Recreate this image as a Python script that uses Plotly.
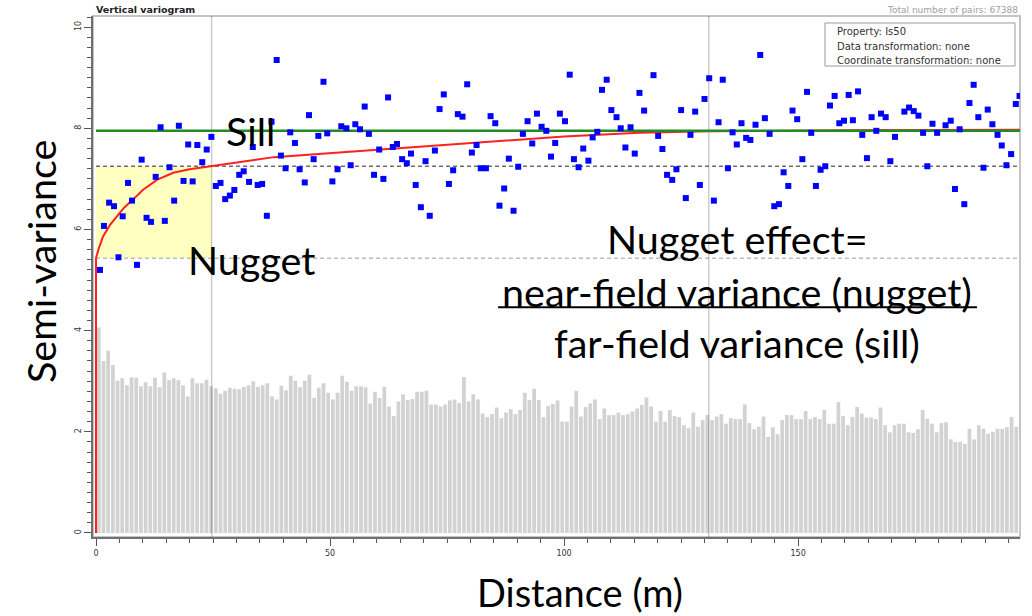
import plotly.graph_objects as go

# ---------------- data ----------------
POINT_X = [0.85, 1.7, 2.8, 3.85, 4.8, 5.7, 6.84, 7.7, 8.76, 9.76, 10.8, 11.75, 12.75, 13.8, 14.7, 15.7, 16.7,
           17.7, 18.7, 19.7, 20.65, 21.65, 22.7, 23.65, 24.65, 25.6, 26.6, 27.6, 28.6, 29.55, 30.6, 31.55,
           32.7, 33.5, 34.55, 35.5, 36.5, 37.5, 38.6, 39.5, 40.5, 41.5, 42.5, 43.5, 44.6, 45.5, 46.5, 47.5,
           48.6, 49.4,
           50.5, 51.6, 52.4, 53.5, 54.4, 55.4, 56.4, 57.4, 58.3, 59.4, 60.5, 61.4, 62.4, 63.4, 64.3, 65.4,
           66.4, 67.3, 68.3, 69.4, 70.4, 71.3, 72.4, 73.4, 74.3, 75.4, 76.3, 77.3, 78.3, 79.3, 80.3, 81.3,
           82.2, 83.3, 84.3, 85.3, 86.2, 87.2, 88.2, 89.2, 90.2, 91.2, 92.2, 93.2, 94.2, 95.2, 96.2, 97.2,
           98.1, 99.1,
           100.2, 101.2, 102.1, 103.1, 104.1, 105.2, 106.1, 107.1, 108.1, 109.1, 110.1, 111.2, 112.1, 113.1,
           114.2, 115.1, 116.1, 117.1, 119.1, 120.1, 121.0, 122.0, 123.1, 124.0, 125.0, 126.0, 127.0, 128.0,
           129.0, 130.0, 131.0, 132.0, 133.0, 133.9, 135.0, 136.0, 136.9, 137.9, 138.9, 139.8, 140.9, 141.9,
           142.9, 143.9, 144.9, 145.9, 146.9, 147.9, 148.8, 149.8,
           150.9, 151.9, 152.8, 153.8, 154.8, 155.8, 156.8, 157.8, 158.8, 159.8, 160.8, 161.7, 162.8, 163.7,
           164.7, 165.7, 166.7, 167.7, 168.7, 169.7, 170.7, 171.7, 172.7, 173.7, 174.7, 175.7, 176.7, 177.6,
           178.7, 179.7, 180.5, 181.5, 182.6, 183.5, 184.5, 185.5, 186.6, 187.5, 188.5, 189.6, 190.5, 191.5,
           192.6, 193.5, 194.5, 195.5, 196.5, 197.3]
POINT_Y = [5.20, 6.07, 6.53, 6.46, 5.45, 6.26, 6.92, 6.57, 5.30, 7.38, 6.23, 6.15, 7.04, 8.02, 6.17, 7.23, 6.57,
           8.05, 6.96, 7.68, 6.95, 7.67, 7.33, 7.58, 7.83, 6.86, 6.92, 6.60, 6.67, 6.78, 7.08, 7.15,
           6.94, 7.63, 6.88, 6.90, 6.27, 8.13, 9.35, 7.46, 7.21, 7.92, 7.71, 7.19, 6.93, 8.26, 7.39, 7.85,
           8.92, 7.90,
           6.95, 7.19, 8.04, 8.00, 7.27, 8.08, 7.98, 8.43, 7.89, 7.08, 7.58, 7.00, 8.61, 7.63, 7.69, 7.39,
           7.31, 7.50, 6.88, 6.44, 7.35, 6.27, 7.56, 8.38, 8.67, 6.90, 7.17, 8.28, 8.23, 8.87, 7.52, 7.67,
           7.21, 7.21, 8.24, 8.10, 6.47, 6.81, 7.40, 6.37, 7.24, 7.89, 8.14, 7.70, 8.29, 8.03, 7.95, 7.44,
           7.71, 8.29,
           8.14, 9.06, 7.39, 7.23, 7.60, 7.36, 7.82, 7.93, 8.76, 8.96, 8.36, 8.22, 8.00, 7.62,
           8.02, 7.50, 8.70, 8.35, 9.05, 7.85, 7.59, 7.08, 6.98, 7.19, 8.36, 6.62, 7.87, 8.33,
           6.88, 8.58, 8.99, 6.57, 8.12, 8.96, 7.21, 7.92, 7.68, 8.10, 7.81, 7.77, 8.07, 9.45,
           8.20, 7.89, 6.46, 6.50, 7.13, 6.86, 8.35, 8.18,
           7.39, 8.72, 7.91, 6.86, 7.18, 7.25, 8.45, 8.64, 8.10, 8.15, 8.66, 8.16, 8.73, 7.87,
           7.41, 8.22, 7.95, 8.29, 8.22, 7.35, 7.83, 9.45, 8.33, 8.41, 8.34, 8.25, 7.91, 7.25,
           8.09, 7.91, 9.51, 8.06, 8.15, 6.80, 7.98, 6.50, 8.50, 8.86, 8.22, 7.22, 8.37, 8.08,
           7.87, 7.66, 7.27, 7.49, 8.48, 8.64]

# pair-count histogram (plotted on the semi-variance scale), one bar per 1 m lag
BAR_Y = [4.06, 3.40, 3.60, 3.32, 3.01, 3.06, 2.92, 3.08, 3.07, 2.90, 2.98, 2.90, 3.07, 2.88, 3.17, 3.02, 3.06,
         3.02, 2.92, 2.70, 3.06, 2.96, 2.96, 3.03, 2.90, 2.86, 2.75, 2.81, 2.87, 2.85, 2.84, 2.89, 2.92, 3.00,
         2.89, 2.92, 2.96, 2.70, 2.64, 2.91, 2.82, 3.11, 3.01, 2.88, 3.01, 3.13, 2.67, 2.87, 2.96, 2.77,
         2.64, 2.77, 3.11, 2.99, 2.81, 2.90, 2.90, 2.88, 2.56, 2.79, 2.67, 2.89, 2.50, 2.31, 2.60, 2.74,
         2.63, 2.65, 2.79, 2.79, 2.81, 2.54, 2.54, 2.50, 2.54, 2.62, 2.64, 2.57, 3.08, 2.60, 2.74, 2.64,
         2.36, 2.29, 2.35, 2.48, 2.27, 2.38, 2.45, 2.35, 2.43, 2.77, 2.63, 2.85, 2.63, 2.29, 2.51, 2.55,
         2.62, 2.20, 2.20,
         2.50, 2.81, 2.30, 2.49, 2.56, 2.64, 2.25, 2.46, 2.33, 2.33, 2.38, 2.33, 2.35, 2.40, 2.46, 2.53,
         2.68, 2.50, 2.20, 2.41, 2.20, 2.43, 2.31, 2.29, 2.13, 2.07, 2.38, 2.10, 2.23, 2.33, 2.23, 2.30,
         2.35, 2.16, 2.27, 2.25, 2.25, 2.54, 2.17, 2.05, 2.10, 2.30, 1.90, 2.09, 1.95, 2.23, 2.33, 2.33,
         2.25, 2.25, 2.41, 2.25, 2.29, 2.25, 2.43, 2.16, 2.16, 2.59, 2.31, 2.13, 2.29, 2.49, 2.36, 2.28,
         2.28, 2.25, 2.48, 2.13, 1.99, 2.13, 2.16, 2.16, 1.99, 1.98, 2.05, 2.43, 2.26, 2.16, 1.99, 2.17,
         2.19, 1.85, 1.80, 1.80, 1.76, 2.06, 1.85, 2.13, 2.06, 1.96, 2.00, 2.06, 2.06, 2.09, 2.29, 2.10, 1.86]
BAR_X = [k + 0.6 for k in range(len(BAR_Y))]

# fitted model
MODEL_X = [0, 0, 0.5, 1.5, 3, 4.5, 6, 8, 10, 13, 16.5, 20, 24.7, 31, 38, 49, 62, 75, 88, 100, 116, 131, 160, 197.4]
MODEL_Y = [0, 5.43, 5.60, 5.86, 6.09, 6.27, 6.43, 6.60, 6.78, 6.98, 7.12, 7.19, 7.25, 7.34, 7.43, 7.50, 7.59,
           7.67, 7.76, 7.84, 7.91, 7.94, 7.96, 7.97]

SILL = 7.95
NUGGET = 5.43
RANGE_LEVEL = 7.25
RANGE_X = 24.7
SECOND_X = 130.9
X_TICKS = [0, 50, 100, 150]
Y_TICKS = [0, 2, 4, 6, 8, 10]

X_RANGE = [-0.64, 197.4]
Y_RANGE = [-0.08, 10.22]

# ---------------- figure ----------------
fig = go.Figure()

fig.add_trace(go.Bar(x=BAR_X, y=BAR_Y, width=0.8, marker=dict(color="#d2d2d2", line=dict(width=0)),
                     hoverinfo="skip"))

for vx in (RANGE_X, SECOND_X):
    fig.add_trace(go.Scatter(x=[vx, vx], y=Y_RANGE, mode="lines",
                             line=dict(color="rgba(0,0,0,0.2)", width=1.5), hoverinfo="skip"))

fig.add_trace(go.Scatter(x=MODEL_X, y=MODEL_Y, mode="lines", line=dict(color="#ff2020", width=2),
                         hoverinfo="skip"))
fig.add_trace(go.Scatter(x=[0, X_RANGE[1]], y=[SILL, SILL], mode="lines",
                         line=dict(color="#238b23", width=2.5), hoverinfo="skip"))
fig.add_trace(go.Scatter(x=POINT_X, y=POINT_Y, mode="markers",
                         marker=dict(symbol="square", size=6, color="#0000ff", line=dict(width=0))))

shapes = [
    dict(type="rect", xref="x", yref="y", x0=0, x1=RANGE_X, y0=NUGGET, y1=RANGE_LEVEL,
         fillcolor="#ffffc2", line=dict(width=0), layer="below"),
    dict(type="line", xref="x", yref="y", x0=0, x1=X_RANGE[1], y0=RANGE_LEVEL, y1=RANGE_LEVEL,
         line=dict(color="#6e6e6e", width=1.5, dash="4px,3px"), layer="below"),
    dict(type="line", xref="x", yref="y", x0=0, x1=X_RANGE[1], y0=NUGGET, y1=NUGGET,
         line=dict(color="#bdbdbd", width=1.5, dash="4px,3px"), layer="below"),
    # frame
    dict(type="rect", xref="paper", yref="paper", x0=0, x1=1, y0=0, y1=1,
         line=dict(color="#c4c4c4", width=2), layer="below"),
    # info box
    dict(type="rect", xref="paper", yref="paper", x0=0.7896, x1=0.9946, y0=0.904, y1=0.9866,
         line=dict(color="#9a9a9a", width=1), fillcolor="white", layer="above"),
    # underline of the fraction's numerator
    dict(type="line", xref="x", yref="y", x0=85.9, x1=188.2, y0=4.46, y1=4.46,
         line=dict(color="black", width=2), layer="above"),
]

BIG = dict(family="Lato, 'Open Sans', sans-serif", size=39.5, color="black")
SMALL = dict(family="DejaVu Sans, sans-serif", size=10, color="#333333")

annotations = [
    dict(text="Sill", x=33.0, y=7.96, xref="x", yref="y", showarrow=False, font=BIG,
         xanchor="center", yanchor="middle"),
    dict(text="Nugget", x=33.2, y=5.40, xref="x", yref="y", showarrow=False, font=BIG,
         xanchor="center", yanchor="middle"),
    dict(text="Nugget effect=", x=137.0, y=5.83, xref="x", yref="y", showarrow=False, font=BIG,
         xanchor="center", yanchor="middle"),
    dict(text="near-field variance (nugget)", x=137.0, y=4.78, xref="x", yref="y",
         showarrow=False, font=BIG, xanchor="center", yanchor="middle"),
    dict(text="far-field variance (sill)", x=137.0, y=3.77, xref="x", yref="y", showarrow=False, font=BIG,
         xanchor="center", yanchor="middle"),
    dict(text="Semi-variance", x=-0.0561, y=0.5298, xref="paper", yref="paper", textangle=-90,
         showarrow=False, font=BIG, xanchor="center", yanchor="middle"),
    dict(text="Distance (m)", x=0.5254, y=-0.1056, xref="paper", yref="paper", showarrow=False,
         font=dict(family="Lato, 'Open Sans', sans-serif", size=38, color="black"),
         xanchor="center", yanchor="middle"),
    dict(text="<b>Vertical variogram</b>", x=0, y=1, xref="paper", yref="paper", xanchor="left",
         yanchor="bottom", xshift=1, yshift=-1, showarrow=False,
         font=dict(family="DejaVu Sans, sans-serif", size=9.5, color="#222222")),
    dict(text="Total number of pairs: 67388", x=1, y=1, xref="paper", yref="paper", xanchor="right",
         yanchor="bottom", yshift=-1, showarrow=False,
         font=dict(family="DejaVu Sans, sans-serif", size=9, color="#a0a0a0")),
    dict(text="Property: Is50", x=0.8004, y=0.9693, xref="paper", yref="paper", xanchor="left",
         yanchor="middle", showarrow=False, font=SMALL),
    dict(text="Data transformation: none", x=0.8004, y=0.9424, xref="paper", yref="paper", xanchor="left",
         yanchor="middle", showarrow=False, font=SMALL),
    dict(text="Coordinate transformation: none", x=0.8004, y=0.9155, xref="paper", yref="paper",
         xanchor="left", yanchor="middle", showarrow=False, font=SMALL),
]

fig.update_layout(
    width=1032, height=616,
    margin=dict(l=93, r=12, t=16, b=79),
    paper_bgcolor="white", plot_bgcolor="white",
    showlegend=False, bargap=0.2, hovermode=False,
    shapes=shapes, annotations=annotations,
    xaxis=dict(range=X_RANGE, tickvals=X_TICKS, ticks="outside", ticklen=7, tickwidth=1,
               tickcolor="#555555", showgrid=False, zeroline=False,
               showline=True, linecolor="#707070", linewidth=2,
               tickfont=dict(family="DejaVu Sans, sans-serif", size=8, color="#333333"),
               minor=dict(dtick=5, tick0=0, ticks="outside", ticklen=4, tickcolor="#555555", showgrid=False)),
    yaxis=dict(range=Y_RANGE, tickvals=Y_TICKS, ticks="outside", ticklen=7, tickwidth=1,
               tickcolor="#555555", showgrid=False, zeroline=False, tickangle=-90,
               showline=True, linecolor="#707070", linewidth=2,
               tickfont=dict(family="DejaVu Sans, sans-serif", size=8, color="#333333"),
               minor=dict(dtick=0.2, tick0=0, ticks="outside", ticklen=4, tickcolor="#555555", showgrid=False)),
)

fig.write_html("out.html", config={"displayModeBar": False},
               post_script="document.body.style.margin='0px';")
